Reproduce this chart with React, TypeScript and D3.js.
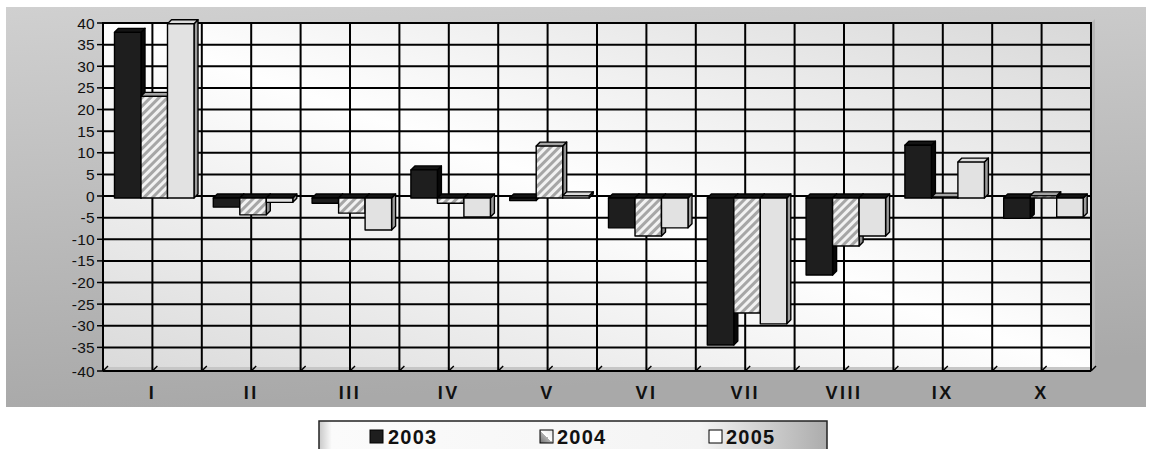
import React from "react";
import * as d3 from "d3";

const categories = ["I", "II", "III", "IV", "V", "VI", "VII", "VIII", "IX", "X"];
const seriesNames = ["2003", "2004", "2005"];
const values2003 = [38.3, -2.1, -1.2, 6.5, -0.6, -6.9, -34, -17.8, 12.2, -4.7];
const values2004 = [23.5, -3.9, -3.5, -1.2, 12, -8.8, -26.6, -11.1, 0.2, 0.5];
const values2005 = [40.3, -1, -7.4, -4.4, 0.5, -6.9, -29.1, -8.8, 8.3, -4.4];
const yTicks = [40, 35, 30, 25, 20, 15, 10, 5, 0, -5, -10, -15, -20, -25, -30, -35, -40];

const seriesValues = [values2003, values2004, values2005];

const W = 1151;
const H = 449;
const plotL = 103;
const plotR = 1091;
const plotT = 23;
const plotB = 369;
const D = 4;

const FONT = "'Liberation Sans', Arial, sans-serif";

const styles = [
  { front: "#1e1e1e", side: "#080808", top: "#141414" },
  { front: "url(#hatch)", side: "#8e8e8e", top: "#a4a4a4" },
  { front: "#e2e2e2", side: "#9c9c9c", top: "#dcdcdc" },
];

export default function App() {
  const x = d3.scaleBand<string>().domain(categories).range([plotL, plotR]).paddingInner(0).paddingOuter(0);
  const cw = x.bandwidth();
  const inner = d3.scaleBand<string>().domain(seriesNames).range([11.5, 91]).padding(0);
  const y = d3.scaleLinear().domain([-40, 40]).range([plotB, plotT]);

  const vLines: number[] = [];
  for (let i = 0; i <= categories.length * 2; i++) vLines.push(plotL + (i * cw) / 2);

  const bars: JSX.Element[] = [];
  categories.forEach((c, ci) => {
    seriesNames.forEach((s, si) => {
      const v = seriesValues[si][ci];
      const x0 = (x(c) as number) + (inner(s) as number);
      const w = inner.bandwidth();
      const yz = y(0) + 2;
      const yv = y(v) + 2;
      const top = Math.min(yz, yv);
      const bot = Math.max(yz, yv);
      const st = styles[si];
      const topFill = v < 0 ? "#141414" : st.top;
      bars.push(
        <g key={`${c}-${s}`} stroke="#000" strokeWidth={1.4} strokeLinejoin="round">
          <polygon
            points={`${x0 + w},${top} ${x0 + w + D},${top - D} ${x0 + w + D},${bot - D} ${x0 + w},${bot}`}
            fill={st.side}
          />
          <polygon
            points={`${x0},${top} ${x0 + D},${top - D} ${x0 + w + D},${top - D} ${x0 + w},${top}`}
            fill={topFill}
          />
          <rect x={x0} y={top} width={w} height={Math.max(bot - top, 0.5)} fill={st.front} />
        </g>
      );
    });
  });

  return (
    <svg
      width={W}
      height={H}
      style={{ position: "absolute", left: 0, top: 0, display: "block" }}
      fontFamily={FONT}
    >
      <defs>
        <linearGradient id="outerBg" x1="0" y1="0" x2="0.15" y2="1">
          <stop offset="0" stopColor="#d0d0d0" />
          <stop offset="1" stopColor="#a9a9a9" />
        </linearGradient>
        <linearGradient id="plotBg" x1="0" y1="1" x2="1" y2="0">
          <stop offset="0" stopColor="#dadada" />
          <stop offset="0.5" stopColor="#fefefe" />
          <stop offset="1" stopColor="#d8d8d8" />
        </linearGradient>
        <linearGradient id="legendBg" x1="0" y1="0" x2="1" y2="0">
          <stop offset="0" stopColor="#c8c8c8" />
          <stop offset="0.025" stopColor="#fbfbfb" />
          <stop offset="0.75" stopColor="#f4f4f4" />
          <stop offset="1" stopColor="#acacac" />
        </linearGradient>
        <linearGradient id="leg2004" x1="0" y1="1" x2="1" y2="0">
          <stop offset="0" stopColor="#707070" />
          <stop offset="0.5" stopColor="#b4b4b4" />
          <stop offset="0.5" stopColor="#ffffff" />
          <stop offset="1" stopColor="#e4e4e4" />
        </linearGradient>
        <pattern id="hatch" patternUnits="userSpaceOnUse" width="6" height="6" patternTransform="rotate(45)">
          <rect width="6" height="6" fill="#f2f2f2" />
          <rect width="3" height="6" fill="#a6a6a6" />
        </pattern>
      </defs>

      <rect x={6} y={7} width={1140} height={400} fill="url(#outerBg)" />

      <rect x={plotL} y={plotT} width={plotR - plotL} height={plotB - plotT} fill="url(#plotBg)" />
      <polygon
        points={`${plotR},${plotT} ${plotR + D},${plotT - D} ${plotR + D},${plotB - 2} ${plotR},${plotB + 2}`}
        fill="#b8b8b8"
      />
      <polygon
        points={`${plotL},${plotB + 2} ${plotL + D},${plotB - 2} ${plotR + D},${plotB - 2} ${plotR},${plotB + 2}`}
        fill="#c6c6c6"
      />

      {yTicks
        .filter((t) => t !== -40)
        .map((t) => (
          <line key={`h${t}`} x1={plotL} x2={plotR} y1={y(t)} y2={y(t)} stroke="#000" strokeWidth={2} />
        ))}
      {vLines.map((vx, i) => (
        <line key={`v${i}`} x1={vx} x2={vx} y1={plotT - 1} y2={plotB + 2} stroke="#000" strokeWidth={2} />
      ))}
      <line x1={plotL} x2={plotR} y1={plotB + 2} y2={plotB + 2} stroke="#000" strokeWidth={2} />
      <line x1={plotL} x2={plotL} y1={plotT - 1} y2={plotB + 2} stroke="#000" strokeWidth={2} />

      {vLines.map((vx, i) => (
        <line key={`t${i}`} x1={vx} y1={plotB + 2} x2={vx + 5} y2={plotB - 3} stroke="#000" strokeWidth={1.4} />
      ))}

      {yTicks.map((t) => (
        <g key={`yl${t}`}>
          <line x1={plotL - 6} x2={plotL} y1={y(t) + (t === -40 ? 2 : 0)} y2={y(t) + (t === -40 ? 2 : 0)} stroke="#000" strokeWidth={1.5} />
          <text
            x={plotL - 8}
            y={y(t) + (t === -40 ? 2 : 0)}
            dy="0.36em"
            textAnchor="end"
            fontSize={15.5}
            letterSpacing={0.3}
            fill="#111"
          >
            {t}
          </text>
        </g>
      ))}

      {bars}

      {categories.map((c) => (
        <text
          key={`c${c}`}
          x={(x(c) as number) + cw / 2}
          y={399}
          textAnchor="middle"
          fontSize={18}
          fontWeight="bold"
          letterSpacing={2.5}
          fill="#111"
        >
          {c}
        </text>
      ))}

      <g>
        <rect x={319} y={421} width={508} height={40} fill="url(#legendBg)" stroke="#222" strokeWidth={1.5} />
        <rect x={370} y={430} width={13} height={13} fill="#1e1e1e" stroke="#000" strokeWidth={1} />
        <text x={388} y={443.5} fontSize={20} fontWeight="bold" letterSpacing={1.2} fill="#111">
          {seriesNames[0]}
        </text>
        <rect x={540} y={430} width={13} height={13} fill="url(#leg2004)" stroke="#000" strokeWidth={1} />
        <text x={557} y={443.5} fontSize={20} fontWeight="bold" letterSpacing={1.2} fill="#111">
          {seriesNames[1]}
        </text>
        <rect x={709} y={430} width={13} height={13} fill="#ffffff" stroke="#000" strokeWidth={1} />
        <text x={726} y={443.5} fontSize={20} fontWeight="bold" letterSpacing={1.2} fill="#111">
          {seriesNames[2]}
        </text>
      </g>
    </svg>
  );
}
